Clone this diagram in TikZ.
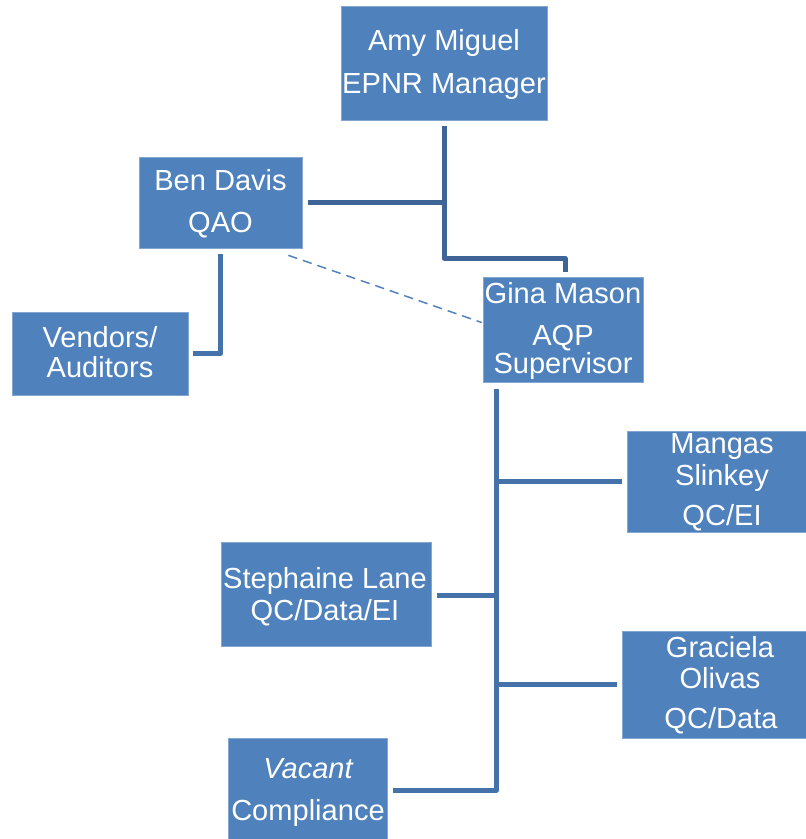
\documentclass[tikz,border=0pt]{standalone}
\usepackage{fontspec}
\setmainfont{Liberation Sans}
\usetikzlibrary{calc}
\definecolor{boxblue}{HTML}{4F81BD}
\definecolor{lineblue}{HTML}{4672AA}
\definecolor{darkline}{HTML}{3F6598}
\tikzset{
  box/.style={rectangle, fill=boxblue, draw=boxblue!70!white, line width=0.5pt, inner sep=0pt},
  txt/.style={anchor=base, text=white, font=\fontsize{21.8pt}{24pt}\selectfont, inner sep=0pt},
  conn/.style={draw=lineblue, line width=3.75pt, line join=round},
  darkconn/.style={draw=darkline, line width=3.75pt, line join=round},
  dashconn/.style={draw=boxblue, line width=1.1pt, dash pattern=on 7pt off 4.5pt}
}
\begin{document}
\begin{tikzpicture}[x=0.75pt, y=-0.75pt]
\useasboundingbox (0,0) rectangle (806,839);
% boxes
\node[box, minimum width=154.5pt, minimum height=85.5pt] (amy) at (444,63) {};
\node[box, minimum width=122.25pt, minimum height=68.25pt] (ben) at (220.5,202.5) {};
\node[box, minimum width=132pt, minimum height=62.25pt] (vend) at (100,353.5) {};
\node[box, minimum width=120pt, minimum height=78.75pt] (gina) at (563,329.5) {};
\node[box, minimum width=134.25pt, minimum height=75.75pt] (mangas) at (716.5,481.5) {};
\node[box, minimum width=157.5pt, minimum height=78pt] (steph) at (326,594) {};
\node[box, minimum width=138pt, minimum height=80.25pt] (grac) at (714,684.5) {};
\node[box, minimum width=119.25pt, minimum height=75.75pt] (vacant) at (307.5,788.5) {};
% texts
\node[txt] (amy1) at (444,50) {Amy Miguel};
\node[txt] (amy2) at (444,93) {EPNR Manager};
\node[txt] (ben1) at (220.5,190) {Ben Davis};
\node[txt] (ben2) at (220.5,232) {QAO};
\node[txt] (vend1) at (100,347) {Vendors/};
\node[txt] (vend2) at (100,377) {Auditors};
\node[txt] (gina1) at (563,303) {Gina Mason};
\node[txt] (gina2) at (563,345) {AQP};
\node[txt] (gina3) at (563,373) {Supervisor};
\node[txt] (mangas1) at (722,453) {Mangas};
\node[txt] (mangas2) at (722,485) {Slinkey};
\node[txt] (mangas3) at (722,525) {QC/EI};
\node[txt] (steph1) at (325,588) {Stephaine Lane};
\node[txt] (steph2) at (325,620) {QC/Data/EI};
\node[txt] (grac1) at (720,657) {Graciela};
\node[txt] (grac2) at (720,688) {Olivas};
\node[txt] (grac3) at (721,728) {QC/Data};
\node[txt] (vacant1) at (308,778) {\itshape Vacant};
\node[txt] (vacant2) at (308,820) {Compliance};
% junction coordinates
\coordinate (amytop) at ($(amy.south)+(0,6)$);
\coordinate (j1) at ($(amy.south)+(0,138)$);
\coordinate (ginatop) at ($(gina.north)+(2,-5)$);
\coordinate (trunk) at ($(gina.south west)+(14,7)$);
% connectors
\draw[darkconn] (amytop) -- (j1) -| (ginatop);
\draw[darkconn] ($(ben.east)+(6,0)$) -- (amytop |- ben.east);
\draw[conn] ($(ben.south)+(0,6)$) |- ($(vend.east)+(5,0)$);
\draw[dashconn] ($(ben.south east)+(-14,7)$) -- ($(gina.west)+(-1,-7)$);
\draw[conn] (trunk) |- ($(vacant.east)+(6,1.5)$);
\draw[conn] (trunk |- mangas.west) -- ($(mangas.west)+(-5,0)$);
\draw[conn] ($(steph.east)+(6,1)$) -- (trunk |- {$(steph.east)+(0,1)$});
\draw[conn] (trunk |- grac.west) -- ($(grac.west)+(-5,0)$);
\end{tikzpicture}
\end{document}
